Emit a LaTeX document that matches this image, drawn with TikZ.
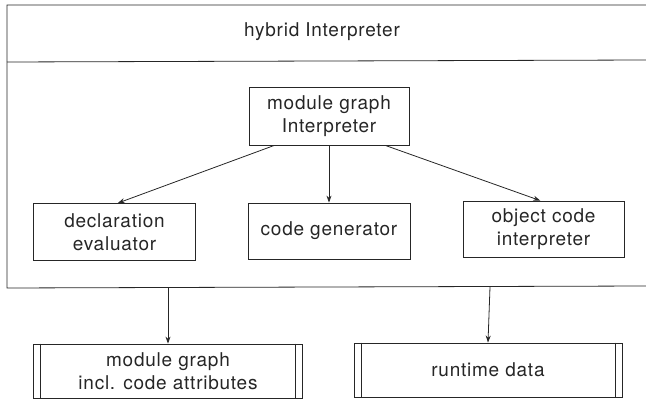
\documentclass[tikz,border=0pt]{standalone}
\usepackage{fontspec}
\setmainfont{TeX Gyre Heros}[LetterSpace=4]
\usetikzlibrary{calc,arrows.meta}
\tikzset{
  every node/.style={font=\fontsize{19}{22.5}\selectfont, text=black!85},
  boxnode/.style={draw=black!85, line width=0.8pt, rectangle, align=center, inner sep=0pt},
  conn/.style={draw=black!85, line width=0.8pt, -{Stealth[length=7pt,width=5pt]}},
  frameline/.style={draw=black!85, line width=0.8pt},
}
\begin{document}
\begin{tikzpicture}[x=1pt,y=-1pt]
\useasboundingbox (0,0) rectangle (646,401);
% outer frame (right side cut off by the page)
\draw[frameline] (646,5) -- (7,5) -- (7,288) -- (646,286);
\draw[frameline] (7,62) -- (646,60);
\node (title) at (322,32) {hybrid Interpreter};

\node[boxnode, minimum width=160pt, minimum height=58pt] (mgi) at (329,116) {module graph\\Interpreter};
\node[boxnode, minimum width=162pt, minimum height=57pt] (decl) at (114.5,232) {declaration\\evaluator};
\node[boxnode, minimum width=162pt, minimum height=56pt] (cgen) at (329,231) {code generator};
\node[boxnode, minimum width=161pt, minimum height=56pt] (obj) at (543.5,229) {object code\\interpreter};

\draw[conn] ($(mgi.south west)!0.16!(mgi.south east)$) -- ($(decl.north west)!0.52!(decl.north east)$);
\draw[conn] (mgi.south) -- (cgen.north);
\draw[conn] ($(mgi.south west)!0.85!(mgi.south east)$) -- ($(obj.north west)!0.48!(obj.north east)$);

\node[boxnode, minimum width=269pt, minimum height=54pt] (mgraph) at (168,371) {module graph\\incl. code attributes};
\node[boxnode, minimum width=268pt, minimum height=54pt] (rdata) at (488,370) {runtime data};
\foreach \n in {mgraph,rdata}{
  \draw[frameline] ($(\n.north west)+(7.5,0)$) -- ($(\n.south west)+(7.5,0)$);
  \draw[frameline] ($(\n.north east)+(-7.5,0)$) -- ($(\n.south east)+(-7.5,0)$);
}

\coordinate (fa) at (168,288);
\coordinate (fb) at (490,287);
\draw[conn] (fa) -- (mgraph.north);
\draw[conn] (fb) -- (rdata.north);
\end{tikzpicture}
\end{document}
